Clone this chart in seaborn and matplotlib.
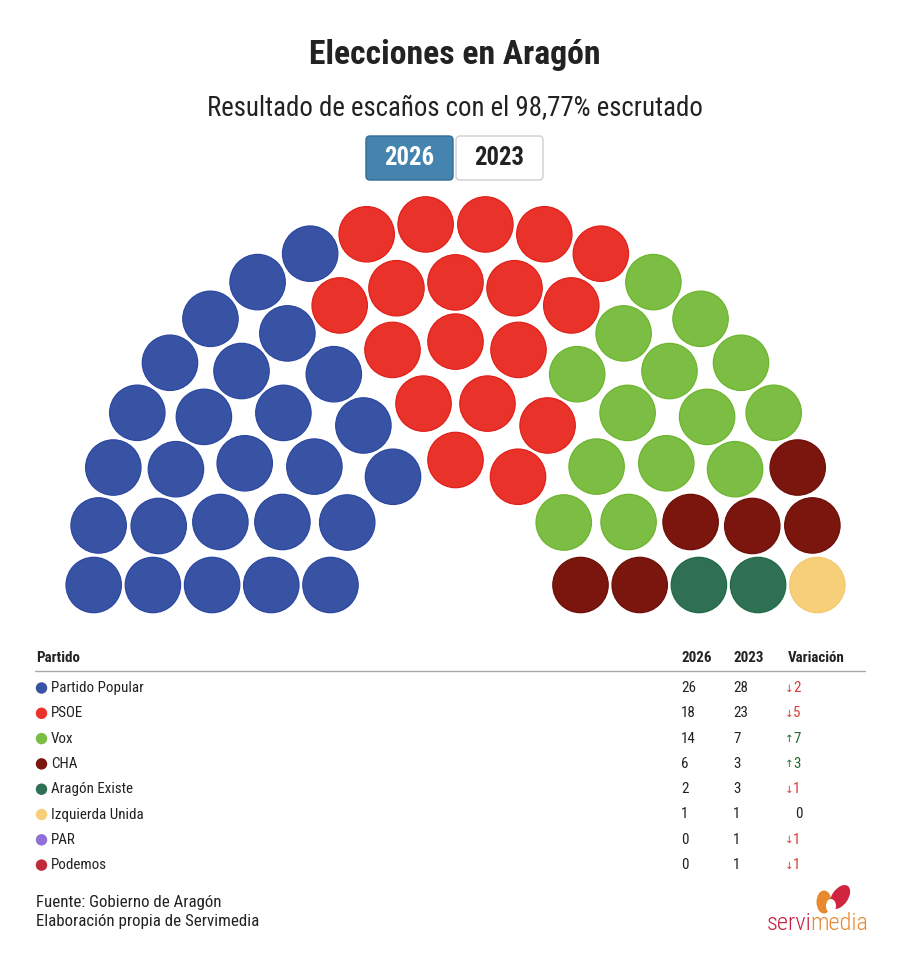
import numpy as np
import pandas as pd
import matplotlib
matplotlib.use("Agg")
import matplotlib.pyplot as plt
import seaborn as sns
from matplotlib.patches import FancyBboxPatch, Ellipse

# ---------------- data ----------------
parties = ["Partido Popular", "PSOE", "Vox", "CHA", "Aragón Existe",
           "Izquierda Unida", "PAR", "Podemos"]
seats_2026 = [26, 18, 14, 6, 2, 1, 0, 0]
seats_2023 = [28, 23, 7, 3, 3, 1, 1, 1]
party_colors = ["#3953A4", "#E9332A", "#7CBD43", "#7A160E", "#2F7054",
                "#F7CF79", "#9270DA", "#C02A3A"]
edge_colors = ["#2C47A0", "#E0201A", "#6DB52F", "#6E0F08", "#1F6A45",
               "#F2C96E", "#7F5CD0", "#B01E30"]
title = "Elecciones en Aragón"
subtitle = "Resultado de escaños con el 98,77% escrutado"
buttons = ["2026", "2023"]
headers = ["Partido", "2026", "2023", "Variación"]
source_lines = ["Fuente: Gobierno de Aragón", "Elaboración propia de Servimedia"]

# ---------------- style ----------------
sns.set_theme(style="white")
plt.rcParams["font.family"] = ["Roboto Condensed", "Roboto", "DejaVu Sans"]
TXT = "#222222"

fig = plt.figure(figsize=(9, 9.56), dpi=100)
ax = fig.add_axes([0, 0, 1, 1])
ax.set_xlim(0, 900)
ax.set_ylim(956, 0)
ax.axis("off")

# ---------------- hemicycle layout ----------------
total = sum(seats_2026)
n_rows = 5
cx, cy = 455.5, 585.0
r_inner, r_step = 125.0, 59.2
radii = r_inner + r_step * np.arange(n_rows)
raw = total * radii / radii.sum()
row_n = np.floor(raw).astype(int)
rem = total - row_n.sum()
order = np.argsort(-(raw - row_n))
row_n[order[:rem]] += 1

recs = []
for i, (r, n) in enumerate(zip(radii, row_n)):
    th = np.linspace(0, np.pi, n)  # from left
    for t in th:
        recs.append((t, i, cx - r * np.cos(t), cy - r * np.sin(t)))
seat_df = pd.DataFrame(recs, columns=["theta", "row", "x", "y"])
seat_df["theta"] = seat_df["theta"].round(9)
seat_df = seat_df.sort_values(["theta", "row"]).reset_index(drop=True)
seat_df["party"] = np.repeat(parties, seats_2026)

pal = dict(zip(parties, party_colors))
edge_pal = dict(zip(parties, edge_colors))
sns.scatterplot(data=seat_df, x="x", y="y", hue="party", palette=pal,
                s=1590, linewidth=0.9, legend=False, ax=ax, zorder=3)
ax.collections[-1].set_edgecolor([edge_pal[p] for p in seat_df["party"]])

# ---------------- titles ----------------
ax.text(455, 55, title, ha="center", va="center", fontsize=24.3,
        weight="bold", color=TXT)
ax.text(455, 109, subtitle, ha="center", va="center", fontsize=19.4,
        color=TXT)

# buttons
bx = [366, 456]
for k, lab in enumerate(buttons):
    active = k == 0
    p = FancyBboxPatch((bx[k], 136), 87, 44,
                       boxstyle="round,pad=0,rounding_size=4",
                       facecolor="#4684B0" if active else "white",
                       edgecolor="#2F6B95" if active else "#CFCFCF",
                       linewidth=1.0, zorder=2)
    ax.add_patch(p)
    ax.text(bx[k] + 43.5, 158, lab, ha="center", va="center", fontsize=17.8,
            weight="bold", color="white" if active else TXT, zorder=3)

# ---------------- table ----------------
hdr_y = 658
col_x = [36, 681, 733, 788]
for j, h in enumerate(headers):
    ax.text(col_x[j], hdr_y, h, ha="left", va="center", fontsize=10.8,
            weight="bold", color=TXT)
ax.plot([35, 865], [671, 671], color="#A8A8A8", lw=1.0)

row_y = 688 + 25.3 * np.arange(len(parties))
tab = pd.DataFrame({"party": parties, "y": row_y, "x": 41.5})
sns.scatterplot(data=tab, x="x", y="y", hue="party", palette=pal, s=68,
                linewidth=0, legend=False, ax=ax, zorder=3)

for p, y, a, b in zip(parties, row_y, seats_2026, seats_2023):
    ax.text(51, y, p, ha="left", va="center", fontsize=10.8, color=TXT)
    ax.text(col_x[1], y, str(a), ha="left", va="center", fontsize=10.8, color=TXT)
    ax.text(col_x[2], y, str(b), ha="left", va="center", fontsize=10.8, color=TXT)
    d = a - b
    if d == 0:
        ax.text(795, y, "0", ha="left", va="center", fontsize=10.8, color=TXT)
    else:
        c = "#1E6B2E" if d > 0 else "#D93C36"
        arrow = "↑" if d > 0 else "↓"
        ax.text(784.5, y + 0.5, arrow, ha="left", va="center", fontsize=7.5,
                color=c, family=["DejaVu Sans"])
        ax.text(793, y, str(abs(d)), ha="left", va="center", fontsize=10.8,
                color=c)

# ---------------- footer ----------------
for k, line in enumerate(source_lines):
    ax.text(36, 902 + 19.5 * k, line, ha="left", va="center", fontsize=12.2,
            color=TXT)

# logo
ax.add_patch(Ellipse((824, 902), 15, 23, angle=0, facecolor="#E8892F",
                     edgecolor="none", zorder=3))
ax.add_patch(Ellipse((840, 897), 16, 27, angle=35, facecolor="#D0243F",
                     edgecolor="none", zorder=3))
ax.add_patch(Ellipse((831, 906), 10, 14, angle=0, facecolor="white",
                     edgecolor="none", zorder=4))
t1 = ax.text(767, 923, "servi", ha="left", va="center", fontsize=17.5,
             color="#C8203F", weight="light")
fig.canvas.draw()
bb = t1.get_window_extent()
x_end = ax.transData.inverted().transform((bb.x1, bb.y0))[0]
ax.text(x_end - 2.0, 923, "media", ha="left", va="center", fontsize=17.5,
        color="#E8892F", weight="light")

fig.savefig("out.png", dpi=100, facecolor="white")
